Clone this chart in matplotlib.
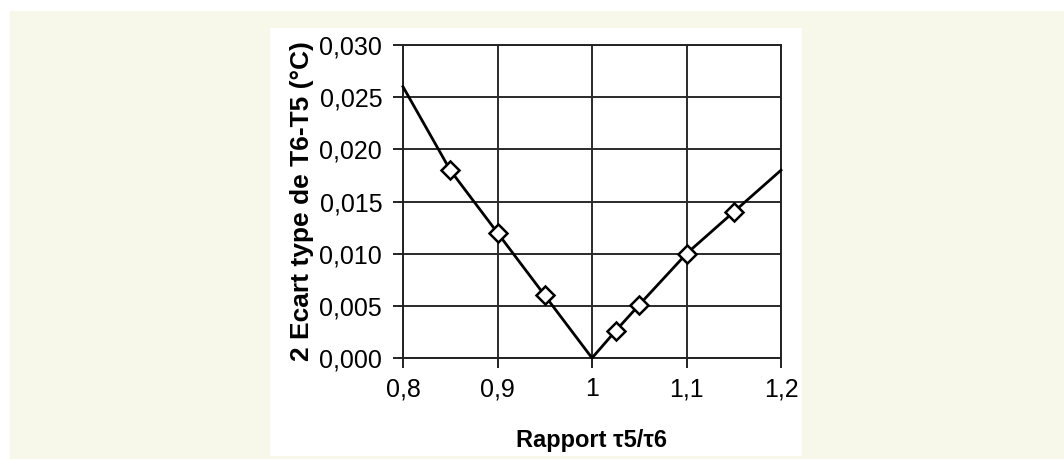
import matplotlib
matplotlib.use("Agg")
import matplotlib.pyplot as plt
from matplotlib.patches import Rectangle

plt.rcParams['font.family'] = ['Liberation Sans', 'DejaVu Sans']

# ligne complete (sans marqueurs aux extremites)
x_ligne = [0.8, 0.85, 0.9, 0.95, 1.0, 1.025, 1.05, 1.1, 1.15, 1.2]
y_ligne = [0.026, 0.018, 0.012, 0.006, 0.0, 0.0026, 0.0051, 0.010, 0.014, 0.018]
# points mesures (marqueurs)
x_pts = [0.85, 0.9, 0.95, 1.025, 1.05, 1.1, 1.15]
y_pts = [0.018, 0.012, 0.006, 0.0026, 0.0051, 0.010, 0.014]

x_ticks = [0.8, 0.9, 1.0, 1.1, 1.2]
x_ticklabels = ['0,8', '0,9', '1', '1,1', '1,2']
y_ticks = [0.0, 0.005, 0.010, 0.015, 0.020, 0.025, 0.030]
y_ticklabels = ['0,000', '0,005', '0,010', '0,015', '0,020', '0,025', '0,030']

fig = plt.figure(figsize=(10.64, 4.59), dpi=100)
W, H = 1064, 459
# fond creme + panneau blanc
fig.patches.append(Rectangle((10 / W, 0), 1 - 10 / W, 1 - 11 / H,
                             transform=fig.transFigure, facecolor='#f7f8ea',
                             edgecolor='none', zorder=-2))
fig.patches.append(Rectangle((270 / W, 3 / H), 532 / W, 428 / H,
                             transform=fig.transFigure, facecolor='white',
                             edgecolor='none', zorder=-1))

ax = fig.add_axes([403 / W, 1 - 358 / H, 378 / W, 313 / H])
ax.patch.set_alpha(0)

ax.plot(x_ligne, y_ligne, color='black', lw=2, zorder=3, clip_on=False)
ax.plot(x_pts, y_pts, linestyle='none', marker='D', markersize=9,
        markerfacecolor='white', markeredgecolor='black', markeredgewidth=1.8,
        zorder=4)

ax.set_xlim(0.8, 1.2)
ax.set_ylim(0, 0.03)
ax.set_xticks(x_ticks)
ax.set_xticklabels(x_ticklabels)
ax.set_yticks(y_ticks)
ax.set_yticklabels(y_ticklabels)
ax.tick_params(direction='out', length=7, width=1.4, color='#222222',
               labelsize=18)
ax.tick_params(axis='y', pad=8)
ax.tick_params(axis='x', pad=7)
ax.grid(True, color='#2a2a2a', lw=1.4)
for s in ax.spines.values():
    s.set_color('#222222')
    s.set_linewidth(1.4)

ax.set_xlabel('Rapport τ5/τ6', fontsize=17, fontweight='bold', labelpad=20)
ax.set_ylabel('2 Ecart type de T6-T5 (°C)', fontsize=19, fontweight='bold',
              labelpad=4)

fig.savefig('out.png', dpi=100)
